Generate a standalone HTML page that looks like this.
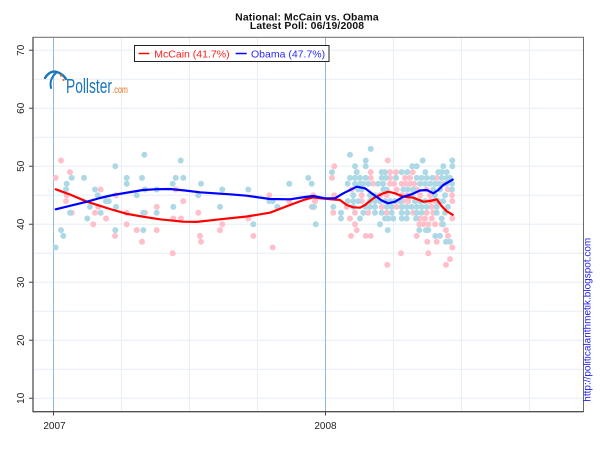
<!DOCTYPE html>
<html>
<head>
<meta charset="utf-8">
<style>
html,body{margin:0;padding:0;background:#fff;}
svg{display:block;}
text{font-family:"Liberation Sans",Arial,sans-serif;}
</style>
</head>
<body>
<svg width="600" height="450" viewBox="0 0 600 450" xmlns="http://www.w3.org/2000/svg">
<rect width="600" height="450" fill="#fff"/>
<text x="307" y="20.5" text-anchor="middle" font-size="10.4" font-weight="bold" fill="#111" letter-spacing="0.15">National: McCain vs. Obama</text>
<text x="307" y="28.8" text-anchor="middle" font-size="10.4" font-weight="bold" fill="#111" letter-spacing="0.15">Latest Poll: 06/19/2008</text>
<path stroke="#e6eef6" stroke-width="1" fill="none" d="M33 398.3H583.5M33 369.3H583.5M33 340.3H583.5M33 311.3H583.5M33 282.3H583.5M33 253.3H583.5M33 224.3H583.5M33 195.3H583.5M33 166.3H583.5M33 137.3H583.5M33 108.3H583.5M33 79.3H583.5M33 50.3H583.5M121.5 37.3V411.7M189.5 37.3V411.7M257.5 37.3V411.7M393.5 37.3V411.7M461.5 37.3V411.7M529.5 37.3V411.7"/>
<path stroke="#96bada" stroke-width="1" fill="none" d="M53.5 37.3V411.7M325.5 37.3V411.7"/>
<path d="M45,78 Q50,70 57,72 Q63,74 66,79" fill="none" stroke="#1b75bb" stroke-width="2.4" stroke-linecap="round"/>
<path d="M56,73 Q49,79 51,88" fill="none" stroke="#1b75bb" stroke-width="2" stroke-linecap="round"/>
<circle cx="61" cy="75.5" r="1.2" fill="#e8731e"/>
<circle cx="63.5" cy="80" r="1.1" fill="#e8731e"/>
<text x="66" y="93" font-family="Liberation Serif, serif" font-size="20" fill="#1b75bb" textLength="46" lengthAdjust="spacingAndGlyphs">Pollster</text>
<text x="112.3" y="93" font-family="Liberation Serif, serif" font-size="10.5" fill="#e8731e" textLength="15.5" lengthAdjust="spacingAndGlyphs">.com</text>

<path fill="none" stroke="#ffc0cb" stroke-width="6" stroke-linecap="round" d="M55.7 177.9h0M61 160.5h0M70 172.1h0M66.7 195.3h0M66 201.1h0M71.7 212.7h0M100.7 189.5h0M95 212.7h0M93.3 224.3h0M98.3 206.9h0M106 218.5h0M116 195.3h0M115 235.9h0M126.7 212.7h0M126.7 224.3h0M136.7 230.1h0M142 241.7h0M145 212.7h0M156.7 206.9h0M156.7 230.1h0M172.7 253.3h0M175.7 189.5h0M183.3 201.1h0M173.3 218.5h0M181 218.5h0M198.3 212.7h0M200 235.9h0M201 241.7h0M222.3 224.3h0M220 230.1h0M248.3 218.5h0M253.3 235.9h0M269.3 195.3h0M272.7 247.5h0M289.3 201.1h0M313.3 195.3h0M315 201.1h0M311.7 206.9h0
M387.7 160.5h0M334.3 166.3h0M370.7 172.1h0M390 172.1h0M396 172.1h0M412.7 172.1h0M332 177.9h0M370.7 177.9h0M390 177.9h0M405 177.9h0M410 177.9h0M436.7 177.9h0M373.3 183.7h0M390 183.7h0M394 183.7h0M401.7 183.7h0M406 183.7h0M410.3 183.7h0M414.3 183.7h0M444 183.7h0M351.7 189.5h0M396.7 189.5h0M416.7 189.5h0M426.7 189.5h0M448 189.5h0M334.3 195.3h0M361.7 195.3h0M380 195.3h0M386.7 195.3h0M401.7 195.3h0M406.7 195.3h0M420 195.3h0M430 195.3h0M452 195.3h0M361.7 201.1h0M403.3 201.1h0M408.3 201.1h0M430 201.1h0M435 201.1h0M452.3 201.1h0M346.7 206.9h0M381.7 206.9h0M396.7 206.9h0M431.7 206.9h0M333.3 212.7h0M355 212.7h0M368.3 212.7h0M386.7 212.7h0M413.3 212.7h0M426.7 212.7h0M433.3 212.7h0M350 218.5h0M420 218.5h0M425 218.5h0M431.7 218.5h0M452.3 218.5h0M355 224.3h0M419.3 224.3h0M423.3 224.3h0M428.3 224.3h0M435 224.3h0M441.7 224.3h0M356.7 230.1h0M446 230.1h0M351 235.9h0M365.7 235.9h0M370.7 235.9h0M416.7 235.9h0M448 235.9h0M427.3 241.7h0M436.7 241.7h0M452.3 247.5h0M401 253.3h0M428.3 253.3h0M450 259.1h0M387.3 264.9h0M446 264.9h0"/>

<path fill="none" stroke="#add8e6" stroke-width="6" stroke-linecap="round" d="M55.7 247.5h0M61 230.1h0M63.3 235.9h0M66.7 183.7h0M66 189.5h0M71.7 177.9h0M70 212.7h0M84 177.9h0M87.3 218.5h0M90 206.9h0M95 189.5h0M97.7 195.3h0M100.7 212.7h0M106 201.1h0M108.7 201.1h0M115.3 166.3h0M116 206.9h0M115.3 230.1h0M126.7 177.9h0M126.7 183.7h0M136.7 195.3h0M142 177.9h0M145 189.5h0M144.3 154.7h0M143.3 212.7h0M143.3 230.1h0M156.7 189.5h0M156.7 212.7h0M172.7 183.7h0M173.3 206.9h0M175.7 177.9h0M180.7 160.5h0M183.3 177.9h0M198.3 195.3h0M201 183.7h0M220 206.9h0M222.3 189.5h0M248.3 189.5h0M253.3 224.3h0M269.3 201.1h0M272.7 201.1h0M277.3 206.9h0M289.3 183.7h0M308.3 177.9h0M311.7 183.7h0M312.7 206.9h0M314 206.9h0M315.7 224.3h0
M370.7 148.9h0M350 154.7h0M365.7 160.5h0M422.7 160.5h0M452.3 160.5h0M355 166.3h0M365.7 166.3h0M412.3 166.3h0M416.7 166.3h0M443.3 166.3h0M452.3 166.3h0M332 172.1h0M356.7 172.1h0M381.7 172.1h0M385 172.1h0M401.7 172.1h0M407.3 172.1h0M425.3 172.1h0M438.3 172.1h0M441.7 172.1h0M446.7 172.1h0M350 177.9h0M355 177.9h0M360 177.9h0M365.7 177.9h0M381.7 177.9h0M386 177.9h0M396 177.9h0M416.7 177.9h0M421.7 177.9h0M426.7 177.9h0M432.3 177.9h0M441.7 177.9h0M446.7 177.9h0M450 177.9h0M347.7 183.7h0M355 183.7h0M360 183.7h0M363.3 183.7h0M368.3 183.7h0M378.3 183.7h0M383.3 183.7h0M420 183.7h0M425 183.7h0M430 183.7h0M435 183.7h0M439.3 183.7h0M446 183.7h0M452 183.7h0M358.3 189.5h0M361.7 189.5h0M383.3 189.5h0M386.7 189.5h0M403.3 189.5h0M408 189.5h0M413.3 189.5h0M433.3 189.5h0M440 189.5h0M452 189.5h0M353.3 195.3h0M370 195.3h0M375 195.3h0M411.7 195.3h0M435 195.3h0M445 195.3h0M347.7 201.1h0M353.3 201.1h0M358.3 201.1h0M370 201.1h0M375 201.1h0M380 201.1h0M385 201.1h0M390 201.1h0M395 201.1h0M400 201.1h0M415 201.1h0M420 201.1h0M425 201.1h0M438.3 201.1h0M443.3 201.1h0M333.3 206.9h0M353.3 206.9h0M365.7 206.9h0M370 206.9h0M375 206.9h0M386.7 206.9h0M391.7 206.9h0M401.7 206.9h0M406.7 206.9h0M411.7 206.9h0M416.7 206.9h0M421.7 206.9h0M426.7 206.9h0M436.7 206.9h0M448 206.9h0M341 212.7h0M363.3 212.7h0M375 212.7h0M381.7 212.7h0M391.7 212.7h0M401.7 212.7h0M407.3 212.7h0M416.7 212.7h0M421.7 212.7h0M436.7 212.7h0M445 212.7h0M341 218.5h0M360 218.5h0M385 218.5h0M388.3 218.5h0M393.3 218.5h0M401.7 218.5h0M406.7 218.5h0M416 218.5h0M441.7 218.5h0M380 224.3h0M443 224.3h0M387.7 230.1h0M419.3 230.1h0M426 230.1h0M428.3 230.1h0M435.3 235.9h0M440 235.9h0M446 241.7h0M450 241.7h0"/>

<polyline fill="none" stroke="#ff0000" stroke-width="2.2" stroke-linejoin="round" stroke-linecap="round" points="55.7,189.3 70,194.5 87,201.7 110,209 126.7,213.8 143,216.7 160,219.3 183,221.7 196.7,221.9 220,219.3 246.7,216.5 270,212.7 290,205 305,199.5 313.3,197.3 320,198.3 340,200 346.7,205 353.3,207.3 360,207.7 365,205 373.3,198.3 383.3,193.3 388.3,191.7 395,193.3 403.3,196.7 413.3,197.7 423.3,201.7 430,201 436.7,199.3 441.7,206.2 446.7,211.2 452.7,214.8"/>
<polyline fill="none" stroke="#0000ff" stroke-width="2.2" stroke-linejoin="round" stroke-linecap="round" points="55.7,209.3 70,205.8 87,201.7 100,198 113,195 128,192.5 143,190 157,189.2 170,189 185,190.5 200,192.3 230,194.3 246.7,195.7 270,199 290,199.3 305,197 313.3,196 325,198.3 335,198.3 343.3,193.3 350,190 356.7,186.7 365,188.3 373.3,194.5 381.7,200.5 388.3,203.3 395,201.7 403.3,196.7 411.7,194.3 420,190.5 426.7,190 433.3,193.3 438.3,190 443.3,185 452.7,179.6"/>

<rect x="134.5" y="45.5" width="194.5" height="16" fill="#fff" stroke="#222" stroke-width="1"/>
<path d="M138.7 53.5H149.3" stroke="#ff0000" stroke-width="1.5"/>
<text x="154.3" y="57.3" font-size="10.5" fill="#ff2020">McCain (41.7%)</text>
<path d="M235.7 53.5H246.7" stroke="#0000ff" stroke-width="1.5"/>
<text x="251" y="57.3" font-size="10.5" fill="#2a2aff">Obama (47.7%)</text>

<rect x="33" y="37.3" width="550.5" height="374.4" fill="none" stroke="#6a6a6a" stroke-width="1"/>
<path d="M33 37.3V411.7H583.5" fill="none" stroke="#444" stroke-width="1.2"/>
<path stroke="#444" stroke-width="1" fill="none" d="M29 398.3H33M29 340.3H33M29 282.3H33M29 224.3H33M29 166.3H33M29 108.3H33M29 50.3H33M53.5 411.7V415.5M325.5 411.7V415.5"/>
<g font-size="10" fill="#222" text-anchor="middle">
<text transform="translate(24,398.3) rotate(-90)">10</text>
<text transform="translate(24,340.3) rotate(-90)">20</text>
<text transform="translate(24,282.3) rotate(-90)">30</text>
<text transform="translate(24,224.3) rotate(-90)">40</text>
<text transform="translate(24,166.3) rotate(-90)">50</text>
<text transform="translate(24,108.3) rotate(-90)">60</text>
<text transform="translate(24,50.3) rotate(-90)">70</text>
<text x="54.5" y="429">2007</text>
<text x="325.5" y="429">2008</text>
</g>
<text transform="translate(590.5,401.7) rotate(-90)" font-size="10" fill="#2222ee">http://politicalarithmetik.blogspot.com</text>
</svg>
</body>
</html>
